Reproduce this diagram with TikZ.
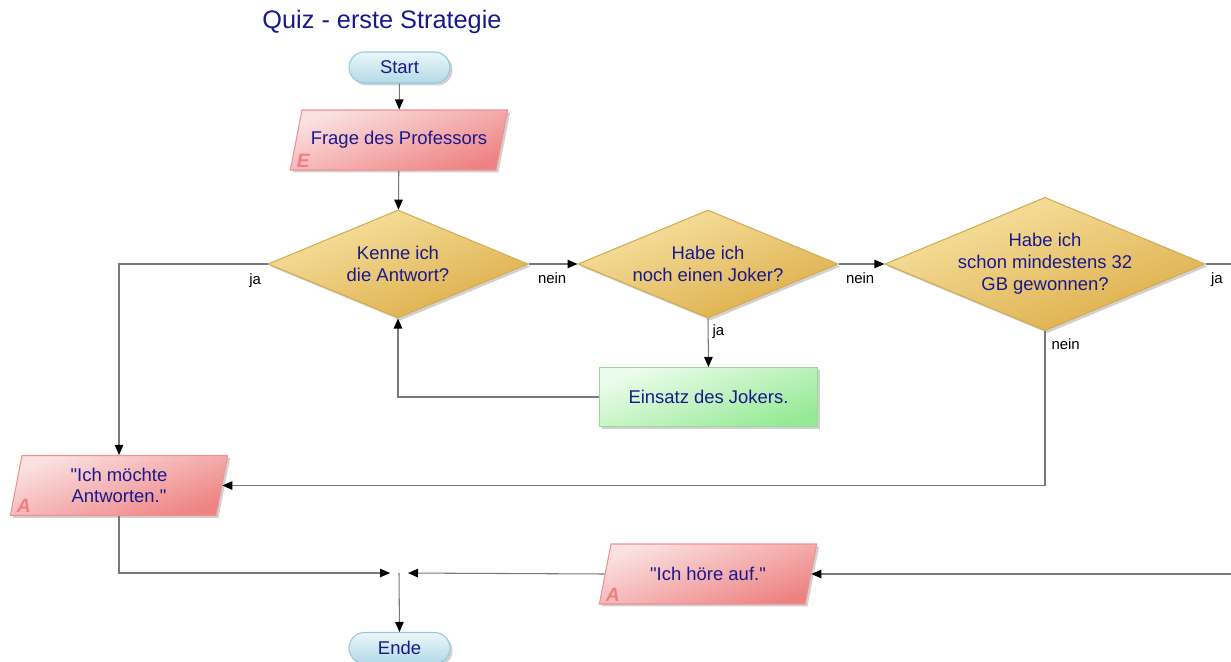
\documentclass[tikz,border=0pt]{standalone}
\usepackage{fontspec}
\setmainfont{Liberation Sans}
\usepackage{xcolor}
\usetikzlibrary{arrows.meta,shapes.geometric,shadows}

\definecolor{txtblue}{RGB}{25,25,140}
\definecolor{linegray}{RGB}{120,120,120}
\newcommand{\iotext}[1]{\parbox[c][1.1cm][c]{3.78cm}{\centering #1}}

\begin{document}
\begin{tikzpicture}[
  x=0.02cm,y=-0.02cm,
  base/.style={font=\fontsize{10.5}{12.4}\selectfont,text=txtblue,align=center,line width=0.6pt,
    drop shadow={shadow xshift=0.05cm,shadow yshift=-0.05cm,opacity=0.3,fill=black!60}},
  term/.style={base,rectangle,rounded corners=0.31cm,minimum width=2.02cm,minimum height=0.62cm,
    draw={rgb,255:red,150;green,200;blue,220},top color={rgb,255:red,236;green,246;blue,250},bottom color={rgb,255:red,178;green,218;blue,232}},
  io/.style={base,trapezium,trapezium left angle=79,trapezium right angle=101,inner sep=0.05cm,
    draw={rgb,255:red,240;green,145;blue,145},top color={rgb,255:red,251;green,226;blue,226},bottom color={rgb,255:red,238;green,130;blue,130},shading angle=20},
  proc/.style={base,rectangle,minimum width=4.36cm,minimum height=1.18cm,
    draw={rgb,255:red,150;green,222;blue,150},top color={rgb,255:red,236;green,252;blue,236},bottom color={rgb,255:red,150;green,234;blue,150},shading angle=20},
  ask/.style={base,diamond,shape aspect=2.4,inner sep=0pt,
    draw={rgb,255:red,212;green,172;blue,80},top color={rgb,255:red,248;green,228;blue,165},bottom color={rgb,255:red,220;green,172;blue,70},shading angle=20},
  tag/.style={font=\fontsize{11}{11}\selectfont\bfseries\itshape,text={rgb,255:red,240;green,128;blue,128},anchor=south west,inner sep=1pt,xshift=0.1cm,yshift=0.02cm},
  yn/.style={font=\fontsize{8.5}{10}\selectfont,text=black,inner sep=0pt},
  arr/.style={-{Triangle[length=0.2cm,width=0.17cm,color=black]},line width=0.6pt,draw=linegray}
]
\useasboundingbox (0,0) rectangle (1231,662);
\clip (0,0) rectangle (1231,662);

\node[font=\fontsize{14.4}{16}\selectfont,text=txtblue] (title) at (382,22) {Quiz - erste Strategie};

\node[term] (start) at (399.5,67.5) {Start};
\node[io] (frage) at (399,140) {\iotext{Frage des Professors}};
\node[tag] (frageE) at (frage.bottom left corner) {E};
\node[ask,minimum width=5.2cm,minimum height=2.16cm] (kennt) at (398,264) {Kenne ich\\die Antwort?};
\node[ask,minimum width=5.2cm,minimum height=2.16cm] (joker) at (708,264) {Habe ich\\noch einen Joker?};
\node[ask,minimum width=6.26cm,minimum height=2.6cm] (gewinn) at (1045,264) {Habe ich\\schon mindestens 32\\GB gewonnen?};
\node[proc] (einsatz) at (708.5,397) {Einsatz des Jokers.};
\node[io] (antwort) at (119,485.5) {\iotext{\textquotedbl Ich möchte\\Antworten.\textquotedbl}};
\node[tag] (antwortA) at (antwort.bottom left corner) {A};
\node[io] (aufhoeren) at (708,574) {\iotext{\textquotedbl Ich höre auf.\textquotedbl}};
\node[tag] (aufhoerenA) at (aufhoeren.bottom left corner) {A};
\coordinate (junc) at (399,573);
\node[term] (ende) at (399.5,648) {Ende};

\draw[arr] (start) -- (frage);
\draw[arr] (frage) -- (kennt);
\draw[arr] (kennt.east) node[yn,anchor=north west,xshift=0.18cm,yshift=-0.16cm] {nein} -- (joker.west);
\draw[arr] (joker.east) node[yn,anchor=north west,xshift=0.14cm,yshift=-0.16cm] {nein} -- (gewinn.west);
\draw[arr] (kennt.west) node[yn,anchor=north east,xshift=-0.12cm,yshift=-0.18cm] {ja} -| (antwort.north);
\draw[arr] (joker.south) node[yn,anchor=north west,xshift=0.08cm,yshift=-0.12cm] {ja} -- (einsatz.north);
\draw[arr] (einsatz.west) -| (kennt.south);
\draw[arr] (gewinn.south) node[yn,anchor=north west,xshift=0.12cm,yshift=-0.14cm] {nein} |- (antwort.east);
\draw[arr] (gewinn.east) node[yn,anchor=north west,xshift=0.1cm,yshift=-0.16cm] {ja} -- (1245,264) |- (aufhoeren.east);
\draw[arr,shorten >=0.18cm] (antwort.south) |- (junc);
\draw[arr,shorten >=0.18cm] (aufhoeren.west) -- (junc);
\draw[arr] (junc) -- (ende.north);

\end{tikzpicture}
\end{document}
